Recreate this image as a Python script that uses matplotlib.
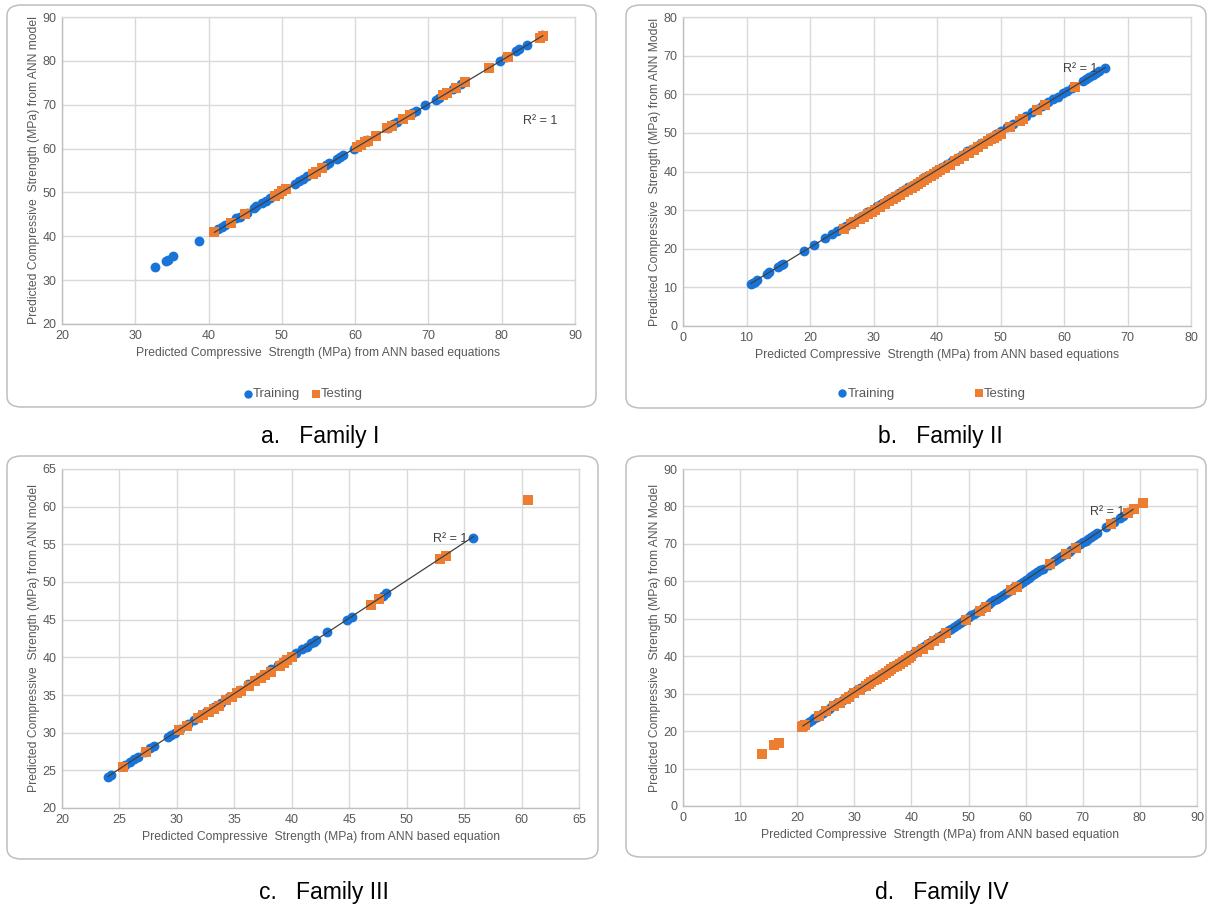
import matplotlib
matplotlib.use("Agg")
import matplotlib.pyplot as plt
from matplotlib.patches import FancyBboxPatch
import numpy as np

plt.rcParams['font.family'] = ['Liberation Sans', 'DejaVu Sans']

# ---------------- Data ----------------
# Family I
a_train_x = [32.7, 34.2, 34.5, 35.2, 38.7, 41.3, 41.8, 42.3, 43.8, 44.3, 45.2, 46.2, 46.5, 47.3, 47.8,
             48.4, 49.5, 50.2, 51.8, 52.4, 52.9, 53.4, 56.0, 56.4, 57.5, 57.9, 58.3, 59.8, 60.2, 61.6,
             64.5, 65.2, 65.7, 67.8, 68.3, 69.6, 71.0, 71.4, 72.3, 73.4, 74.5, 79.7, 80.6, 82.0, 82.3,
             83.5, 85.5]
a_train_y = [33.0, 34.3, 34.6, 35.4, 38.9, 41.6, 42.1, 42.6, 44.1, 44.5, 45.4, 46.5, 46.8, 47.6, 48.1,
             48.7, 49.9, 50.5, 52.0, 52.6, 53.1, 53.7, 56.3, 56.6, 57.7, 58.1, 58.5, 60.0, 60.4, 62.0,
             64.8, 65.5, 66.1, 68.1, 68.6, 69.9, 71.1, 71.5, 72.6, 73.6, 74.8, 80.0, 80.9, 82.3, 82.6,
             83.7, 85.8]
a_test_x = [40.8, 43.0, 45.0, 49.0, 49.6, 50.0, 50.6, 54.2, 54.7, 55.5, 60.3, 60.8, 61.3, 61.8, 62.8,
            64.3, 65.0, 66.5, 67.5, 72.0, 72.5, 73.8, 75.0, 78.2, 80.8, 85.2, 85.6]
a_test_y = [41.0, 43.0, 45.0, 49.2, 49.7, 50.3, 50.7, 54.3, 54.6, 55.6, 60.4, 60.8, 61.4, 61.8, 62.9,
            64.6, 65.2, 66.8, 67.7, 72.2, 72.6, 73.8, 75.1, 78.3, 80.9, 85.3, 85.7]

# Family II
b_train_x = [10.7, 11.0, 11.3, 11.6, 13.2, 13.6, 15.0, 15.4, 15.7, 19.0, 20.7, 22.3, 23.4, 24.2, 25.0,
             25.6, 26.5, 27.5, 28.2, 29.0, 30.0, 30.6, 31.2, 31.8, 32.5, 33.3, 34.0, 34.8, 35.5, 36.2,
             37.0, 37.8, 38.5, 39.3, 40.0, 40.8, 41.6, 42.4, 43.2, 44.0, 44.8, 45.5, 46.3, 47.0, 47.8,
             48.5, 49.3, 50.0, 51.0, 52.0, 53.0, 54.0, 55.0, 55.8, 56.5, 57.5, 58.3, 59.0, 59.8, 60.5,
             61.2, 63.0, 63.5, 64.0, 64.5, 65.0, 65.5, 66.5]
b_train_y = [10.9, 11.2, 11.5, 11.8, 13.5, 13.9, 15.3, 15.7, 16.0, 19.4, 21.0, 22.7, 23.8, 24.6, 25.4,
             26.0, 26.9, 27.9, 28.6, 29.4, 30.4, 31.0, 31.6, 32.2, 32.9, 33.7, 34.4, 35.2, 35.9, 36.6,
             37.4, 38.2, 38.9, 39.7, 40.4, 41.2, 42.0, 42.8, 43.6, 44.4, 45.2, 45.9, 46.7, 47.4, 48.2,
             48.9, 49.7, 50.4, 51.4, 52.4, 53.4, 54.4, 55.4, 56.2, 56.9, 57.9, 58.7, 59.4, 60.2, 60.9,
             61.6, 63.4, 63.9, 64.4, 64.9, 65.4, 65.9, 66.9]
b_test_x = [25.3, 26.5, 27.0, 27.8, 28.5, 29.2, 29.8, 30.3, 31.0, 31.8, 32.5, 33.0, 33.6, 34.2, 34.8,
            35.5, 36.0, 36.5, 37.0, 37.5, 38.0, 38.5, 39.0, 39.5, 40.0, 40.5, 41.2, 42.0, 42.8, 43.5,
            44.2, 45.0, 45.8, 46.5, 47.2, 48.0, 48.5, 49.0, 49.5, 50.0, 51.5, 53.0, 53.5, 55.8, 57.0,
            61.8]
b_test_y = [25.1, 26.3, 26.8, 27.6, 28.3, 29.0, 29.6, 30.1, 30.8, 31.6, 32.3, 32.8, 33.4, 34.0, 34.6,
            35.3, 35.8, 36.3, 36.8, 37.3, 37.8, 38.3, 38.8, 39.3, 39.8, 40.3, 41.0, 41.8, 42.6, 43.3,
            44.0, 44.8, 45.6, 46.3, 47.0, 47.8, 48.3, 48.8, 49.3, 49.8, 51.4, 53.0, 53.6, 55.8, 57.2,
            62.0]

# Family III
c_train_x = [24.0, 24.3, 25.5, 25.9, 26.3, 26.6, 27.2, 27.7, 28.0, 29.2, 29.5, 29.8, 30.3, 31.0, 31.5,
             32.1, 32.5, 33.2, 33.8, 34.5, 35.5, 36.2, 36.8, 37.5, 38.2, 38.8, 39.3, 40.0, 40.4, 40.9,
             41.3, 41.7, 41.9, 42.1, 43.1, 44.8, 45.2, 47.9, 48.2, 55.8]
c_train_y = [24.1, 24.4, 25.7, 26.1, 26.5, 26.8, 27.4, 27.9, 28.2, 29.4, 29.7, 30.0, 30.5, 31.2, 31.7,
             32.3, 32.7, 33.4, 34.0, 34.7, 35.7, 36.4, 37.0, 37.7, 38.4, 39.0, 39.5, 40.2, 40.6, 41.1,
             41.4, 41.9, 42.1, 42.3, 43.4, 45.0, 45.4, 48.1, 48.5, 55.9]
c_test_x = [25.3, 27.3, 30.2, 30.9, 31.8, 32.3, 32.8, 33.2, 33.7, 34.3, 34.8, 35.2, 35.6, 36.3, 36.8,
            37.3, 37.7, 38.2, 39.0, 39.3, 39.6, 40.0, 46.9, 47.6, 52.9, 53.4, 60.6]
c_test_y = [25.4, 27.4, 30.3, 30.9, 31.9, 32.3, 32.8, 33.2, 33.6, 34.3, 34.8, 35.2, 35.5, 36.2, 36.8,
            37.2, 37.7, 38.1, 38.9, 39.2, 39.6, 40.0, 47.0, 47.8, 53.1, 53.5, 60.9]

# Family IV
d_train_x = [21.0, 21.5, 22.0, 22.5, 23.0, 23.5, 24.0, 24.5, 25.0, 25.5, 26.0, 26.5, 27.0, 27.5, 28.0,
             28.5, 29.0, 29.5, 30.0, 30.5, 31.0, 31.5, 32.0, 32.5, 33.0, 33.5, 34.0, 34.5, 35.0, 35.5,
             36.0, 36.5, 37.0, 37.5, 38.0, 38.5, 39.0, 39.5, 40.0, 40.5, 41.0, 41.5, 42.0, 42.5, 43.0,
             43.5, 44.0, 44.5, 45.0, 45.5, 46.0, 46.5, 47.0, 47.5, 48.0, 48.5, 49.0, 50.0, 50.5, 51.0,
             51.5, 52.5, 53.5, 54.0, 54.5, 55.0, 55.5, 56.0, 56.5, 57.0, 58.0, 59.0, 59.5, 60.0, 60.5,
             61.0, 61.5, 62.0, 62.5, 63.0, 64.0, 65.0, 65.5, 66.0, 66.5, 67.5, 68.0, 69.0, 69.5, 70.0,
             70.5, 71.0, 71.5, 72.0, 72.5, 74.0, 75.5, 76.5, 77.0, 78.0, 78.8]
d_train_y = [21.4, 21.9, 22.4, 22.9, 23.4, 23.9, 24.4, 24.9, 25.4, 25.9, 26.4, 26.9, 27.4, 27.9, 28.4,
             28.9, 29.4, 29.9, 30.4, 30.9, 31.4, 31.9, 32.4, 32.9, 33.4, 33.9, 34.4, 34.9, 35.4, 35.9,
             36.4, 36.9, 37.4, 37.9, 38.4, 38.9, 39.4, 39.9, 40.4, 40.9, 41.4, 41.9, 42.4, 42.9, 43.4,
             43.9, 44.4, 44.9, 45.4, 45.9, 46.4, 46.9, 47.4, 47.9, 48.4, 48.9, 49.4, 50.4, 50.9, 51.4,
             51.9, 52.9, 53.9, 54.4, 54.9, 55.4, 55.9, 56.4, 56.9, 57.4, 58.4, 59.4, 59.9, 60.4, 60.9,
             61.4, 61.9, 62.4, 62.9, 63.4, 64.4, 65.4, 65.9, 66.4, 66.9, 67.9, 68.4, 69.4, 69.9, 70.4,
             70.9, 71.4, 71.9, 72.4, 72.9, 74.5, 75.9, 76.9, 77.4, 78.4, 79.2]
d_test_x = [13.8, 16.0, 16.8, 20.8, 21.0, 21.3, 23.8, 25.0, 26.5, 27.5, 28.5, 29.0, 30.0, 31.0, 32.0,
            32.5, 33.0, 33.5, 34.0, 34.5, 35.0, 35.5, 36.0, 36.5, 37.0, 37.5, 38.0, 38.5, 39.0, 39.5,
            40.0, 41.0, 42.0, 43.0, 44.0, 45.0, 46.0, 49.5, 52.0, 53.0, 57.5, 58.5, 64.3, 67.0, 68.8,
            75.0, 78.0, 79.0, 80.5]
d_test_y = [14.0, 16.3, 16.9, 21.0, 21.3, 21.5, 24.0, 25.5, 26.8, 27.6, 28.5, 29.0, 30.2, 31.0, 32.0,
            32.6, 33.0, 33.6, 34.0, 34.5, 35.0, 35.4, 36.0, 36.5, 37.0, 37.5, 38.0, 38.4, 39.0, 39.5,
            40.0, 41.0, 42.0, 43.0, 44.0, 45.0, 46.2, 49.6, 52.2, 53.2, 57.6, 58.6, 64.5, 67.3, 69.0,
            75.3, 78.3, 79.3, 80.8]

BLUE = '#1874D9'
ORANGE = '#ED7D31'
TXT = '#595959'
GRID = '#D9D9D9'

W, H = 1208, 909
fig = plt.figure(figsize=(W / 100, H / 100), dpi=100)


def fx(px):
    return px / W


def fy(py):
    return 1 - py / H


def box(x0, y0, x1, y1):
    p = FancyBboxPatch((fx(x0), fy(y1)), fx(x1 - x0), (y1 - y0) / H,
                       boxstyle="round,pad=0,rounding_size=0.012",
                       transform=fig.transFigure, facecolor='none',
                       edgecolor='#BFBFBF', linewidth=1.1, zorder=-1)
    fig.patches.append(p)


box(7, 5, 596, 407)
box(626, 5, 1206, 408)
box(7, 456, 598, 859)
box(626, 456, 1206, 857)


def make_axes(px_left, px_top, px_right, px_bottom):
    ax = fig.add_axes([fx(px_left), fy(px_bottom), fx(px_right - px_left), (px_bottom - px_top) / H])
    ax.set_zorder(2)
    return ax


def style(ax, xlim, ylim, step, xlabel, ylabel):
    ax.set_xlim(*xlim)
    ax.set_ylim(*ylim)
    ax.set_xticks(np.arange(xlim[0], xlim[1] + 0.1, step[0]))
    ax.set_yticks(np.arange(ylim[0], ylim[1] + 0.1, step[1]))
    ax.grid(True, color=GRID, linewidth=1.0, zorder=0)
    ax.set_axisbelow(True)
    for s in ['top', 'right']:
        ax.spines[s].set_color(GRID)
        ax.spines[s].set_linewidth(1.0)
    for s in ['left', 'bottom']:
        ax.spines[s].set_color('#BFBFBF')
        ax.spines[s].set_linewidth(1.0)
    ax.tick_params(length=0, labelsize=9, colors=TXT, pad=4)
    ax.set_xlabel(xlabel, fontsize=8.7, color=TXT, labelpad=4)
    ax.set_ylabel(ylabel, fontsize=8.7, color=TXT, labelpad=2)
    ax.patch.set_alpha(0)


def plot_panel(ax, tx, ty, sx, sy, fitx, fity, rpos):
    ax.scatter(tx, ty, s=50, color=BLUE, marker='o', linewidths=0, zorder=3, label='Training')
    ax.scatter(sx, sy, s=42, color=ORANGE, marker='s', linewidths=0, zorder=4, label='Testing')
    fx_ = np.asarray(fitx)
    fy_ = np.asarray(fity)
    k, b = np.polyfit(fx_, fy_, 1)
    xs = np.array([fx_.min(), fx_.max()])
    ax.plot(xs, k * xs + b, color='#404040', linewidth=0.9, zorder=5)
    ax.text(rpos[0], rpos[1], 'R² = 1', fontsize=9, color='#404040', ha='center', va='center', zorder=6)


# Panel a
axa = make_axes(62, 17, 575, 324)
style(axa, (20, 90), (20, 90), (10, 10),
      'Predicted Compressive  Strength (MPa) from ANN based equations',
      'Predicted Compressive  Strength (MPa) from ANN model')
plot_panel(axa, a_train_x, a_train_y, a_test_x, a_test_y, a_test_x, a_test_y, (85.3, 66.3))
axa.legend(loc='upper center', bbox_to_anchor=(0.47, -0.17), ncol=2, frameon=False,
           fontsize=9.5, labelcolor=TXT, handletextpad=0.05, handlelength=0.7,
           columnspacing=0.8, markerscale=0.85)

# Panel b
axb = make_axes(683, 17, 1191, 326)
style(axb, (0, 80), (0, 80), (10, 10),
      'Predicted Compressive  Strength (MPa) from ANN based equations',
      'Predicted Compressive  Strength (MPa) from ANN Model')
plot_panel(axb, b_train_x, b_train_y, b_test_x, b_test_y, b_train_x, b_train_y, (62.5, 66.6))
axb.legend(loc='upper center', bbox_to_anchor=(0.49, -0.16), ncol=2, frameon=False,
           fontsize=9.5, labelcolor=TXT, handletextpad=0.05, handlelength=0.7,
           columnspacing=6.0, markerscale=0.85)

# Panel c
axc = make_axes(62, 469, 579, 808)
style(axc, (20, 65), (20, 65), (5, 5),
      'Predicted Compressive  Strength (MPa) from ANN based equation',
      'Predicted Compressive  Strength (MPa) from ANN model')
plot_panel(axc, c_train_x, c_train_y, c_test_x, c_test_y, c_train_x, c_train_y, (53.8, 55.7))

# Panel d
axd = make_axes(683, 469, 1197, 806)
style(axd, (0, 90), (0, 90), (10, 10),
      'Predicted Compressive  Strength (MPa) from ANN based equation',
      'Predicted Compressive  Strength (MPa) from ANN Model')
plot_panel(axd, d_train_x, d_train_y, d_test_x, d_test_y, d_train_x, d_train_y, (74.3, 78.6))

# Captions
captions = [('a.   Family I', 320, 436), ('b.   Family II', 940, 436),
            ('c.   Family III', 324, 893), ('d.   Family IV', 942, 893)]
for t, x, y in captions:
    fig.text(fx(x), fy(y), t, fontsize=16.5, color='black', ha='center', va='center')

fig.savefig('out.png', dpi=100, facecolor='white')
